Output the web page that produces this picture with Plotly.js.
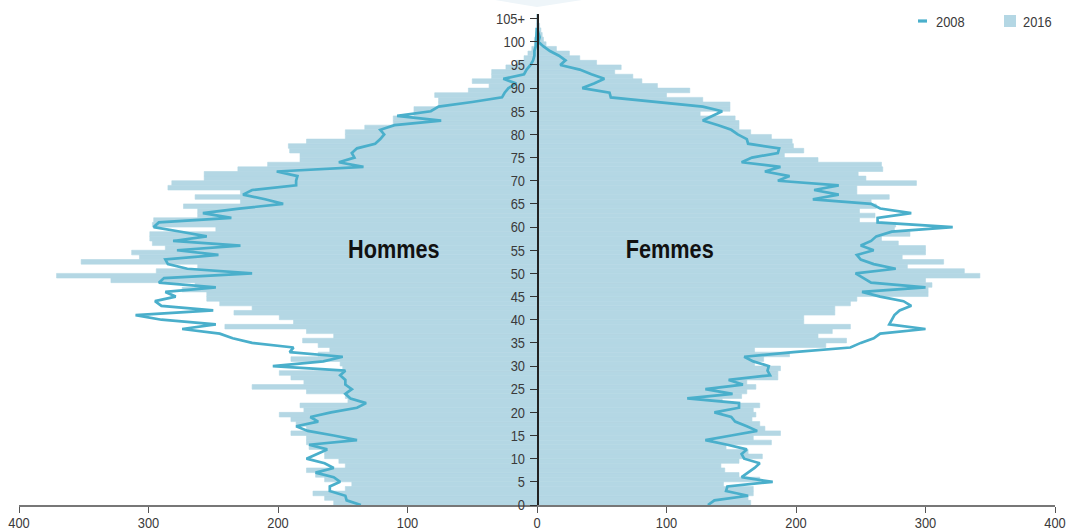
<!DOCTYPE html>
<html>
<head>
<meta charset="utf-8">
<script src="https://cdn.plot.ly/plotly-3.0.1.min.js"></script>
<style>html,body{margin:0;padding:0;background:#fff;}#chart{width:1068px;height:532px;}</style>
</head>
<body>
<div id="chart"></div>
<script>
// Ages 0 .. 105 (105 = "105+")
const ages = Array.from({length: 106}, (_, i) => i);
const yTickVals = [0,5,10,15,20,25,30,35,40,45,50,55,60,65,70,75,80,85,90,95,100,105];
const yTickText = ["0","5","10","15","20","25","30","35","40","45","50","55","60","65","70","75","80","85","90","95","100","105+"];
const xTickVals = [-400,-300,-200,-100,0,100,200,300,400];
const xTickText = ["400","300","200","100","0","100","200","300","400"];

// Hommes 2016 (bars, ages 0..105)
const hommes2016 = [157,164,173,148,143,164,171,178,148,153,
  164,164,176,178,178,190,178,186,190,199,
  180,183,146,148,178,220,180,190,199,150,
  152,190,169,160,169,181,157,178,241,188,
  199,234,220,245,255,255,274,264,329,371,
  294,262,352,307,313,287,297,299,299,248,
  297,296,262,262,273,229,264,229,285,282,
  257,257,231,208,183,183,191,192,178,148,
  148,133,111,111,95,95,76,76,79,53,
  37,50,35,35,24,16,10,7,4,2,
  2,1,1,0.5,0.3,0.3];

// Femmes 2016 (bars, ages 0..105)
const femmes2016 = [165,163,167,167,144,172,156,145,142,156,
  174,163,146,181,167,188,176,172,166,169,
  167,172,143,158,162,169,162,186,186,188,
  168,175,195,168,223,239,217,228,242,206,
  206,230,230,242,247,302,302,305,300,342,
  330,286,314,282,300,300,279,266,288,276,
  277,249,261,249,262,258,272,247,247,293,
  254,248,267,266,217,191,206,198,197,181,
  165,156,156,153,126,149,149,128,100,118,
  93,81,74,60,65,46,33,25,15,7,
  5,4,3,2,1,1];

// Hommes 2008 (line, ages 0..103)
const hommes2008 = [136,147,148,160,160,152,157,171,157,164,
  178,170,162,176,139,157,177,186,169,175,
  159,139,132,144,148,143,148,148,152,148,
  204,165,150,191,188,220,235,245,274,248,
  290,310,250,290,295,279,287,248,292,288,
  220,270,285,287,246,278,229,281,255,275,
  296,292,236,258,230,196,210,227,220,186,
  186,185,201,134,153,141,143,139,125,121,
  118,121,110,74,108,82,76,50,27,25,
  22,16,26,10,8,5,3,2,2,1,
  1,0.5,0.3,0];

// Femmes 2008 (line, ages 0..103)
const femmes2008 = [132,137,163,146,147,182,158,163,168,172,
  160,158,162,147,130,150,170,162,153,150,
  137,156,156,116,151,130,159,148,180,178,
  179,167,160,198,242,250,260,265,300,272,
  274,276,280,289,283,265,251,300,258,252,
  246,277,260,250,247,260,250,258,262,274,
  321,263,263,289,265,258,213,233,214,233,
  186,195,176,188,158,166,186,187,163,162,
  155,150,140,128,135,143,128,95,57,56,
  35,44,52,42,33,18,22,17,10,5,
  1,2,1,0];

const barColor = '#b4d7e4';
const lineColor = '#4aafcb';
const baseFamily = 'Liberation Sans, Arial, sans-serif';
const tickFont = {family: baseFamily, size: 15, color: '#3a3a3a'};
const bigFont = {family: baseFamily, size: 25.5, color: '#111', weight: 'bold'};

const traces = [
  {type: 'bar', orientation: 'h', y: ages, x: hommes2016.map(v => -v),
   offset: 0, width: 1, marker: {color: barColor, line: {width: 0.6, color: barColor}}, name: '2016', hoverinfo: 'skip'},
  {type: 'bar', orientation: 'h', y: ages, x: femmes2016,
   offset: 0, width: 1, marker: {color: barColor, line: {width: 0.6, color: barColor}}, name: '2016', hoverinfo: 'skip'},
  {type: 'scatter', mode: 'lines', y: ages.slice(0, hommes2008.length), x: hommes2008.map(v => -v),
   line: {color: lineColor, width: 2.7}, name: '2008', hoverinfo: 'skip'},
  {type: 'scatter', mode: 'lines', y: ages.slice(0, femmes2008.length), x: femmes2008,
   line: {color: lineColor, width: 2.7}, name: '2008', hoverinfo: 'skip'}
];

const T = 14, B = 505;                 // plot area top / bottom in pixels
const px = v => (v - 19) / 1036;       // pixel -> paper x
const py = v => (B - v) / (B - T);     // pixel -> paper y

const layout = {
  width: 1068, height: 532,
  margin: {l: 19, r: 13, t: T, b: 532 - B, pad: 0},
  paper_bgcolor: '#fff', plot_bgcolor: '#fff',
  showlegend: false,
  barmode: 'overlay',
  xaxis: {
    range: [-400, 400], tickvals: xTickVals, ticktext: xTickText,
    ticks: 'outside', ticklen: 6, tickwidth: 1, tickcolor: '#555',
    showline: true, linecolor: '#777', linewidth: 1.5, ticklabelstandoff: -2,
    showgrid: false, zeroline: false, tickfont: tickFont, fixedrange: true
  },
  yaxis: {
    range: [0, 106], tickvals: yTickVals, ticktext: yTickText,
    ticks: 'outside', ticklen: 7, tickwidth: 1, tickcolor: '#333',
    showline: true, linecolor: '#222', linewidth: 1.5,
    anchor: 'free', position: 0.5, ticklabelstandoff: 2,
    showgrid: false, zeroline: false, tickfont: tickFont, fixedrange: true
  },
  shapes: [
    {type: 'path', xref: 'paper', yref: 'paper',
     path: `M ${px(495)},${py(0)} L ${px(582)},${py(0)} L ${px(537)},${py(7)} Z`,
     fillcolor: '#eef5f9', line: {width: 0}, layer: 'below'},
    {type: 'line', xref: 'paper', yref: 'paper', x0: px(918), x1: px(927), y0: py(21), y1: py(21),
     line: {color: lineColor, width: 3.2}},
    {type: 'rect', xref: 'paper', yref: 'paper', x0: px(1004), x1: px(1016), y0: py(27), y1: py(15),
     fillcolor: barColor, line: {width: 0}}
  ],
  annotations: [
    {xref: 'paper', yref: 'paper', x: px(393.5), y: py(249), text: 'Hommes', showarrow: false,
     xanchor: 'center', yanchor: 'middle', font: bigFont},
    {xref: 'paper', yref: 'paper', x: px(669.5), y: py(249), text: 'Femmes', showarrow: false,
     xanchor: 'center', yanchor: 'middle', font: bigFont},
    {xref: 'paper', yref: 'paper', x: px(934), y: py(21), xanchor: 'left', yanchor: 'middle',
     text: '2008', showarrow: false, font: tickFont},
    {xref: 'paper', yref: 'paper', x: px(1021), y: py(21), xanchor: 'left', yanchor: 'middle',
     text: '2016', showarrow: false, font: tickFont}
  ]
};

// Narrow the glyphs horizontally (the reference uses a condensed face)
function condense(el, sx, anchor) {
  const bb = el.getBBox();
  let cx = bb.x + bb.width / 2;
  if (anchor === 'start') cx = bb.x;
  if (anchor === 'end') cx = bb.x + bb.width;
  const prev = el.getAttribute('transform') || '';
  el.setAttribute('transform', `${prev} translate(${cx},0) scale(${sx},1) translate(${-cx},0)`);
}

Plotly.newPlot('chart', traces, layout, {displayModeBar: false, staticPlot: true}).then(gd => {
  gd.querySelectorAll('.xtick text').forEach(t => condense(t, 0.86, 'middle'));
  gd.querySelectorAll('.ytick text').forEach(t => condense(t, 0.86, 'end'));
  gd.querySelectorAll('text.annotation-text').forEach(t => {
    const s = t.textContent;
    if (s === 'Hommes' || s === 'Femmes') condense(t, 0.85, 'middle');
    else condense(t, 0.86, 'start');
  });
});
</script>
</body>
</html>
